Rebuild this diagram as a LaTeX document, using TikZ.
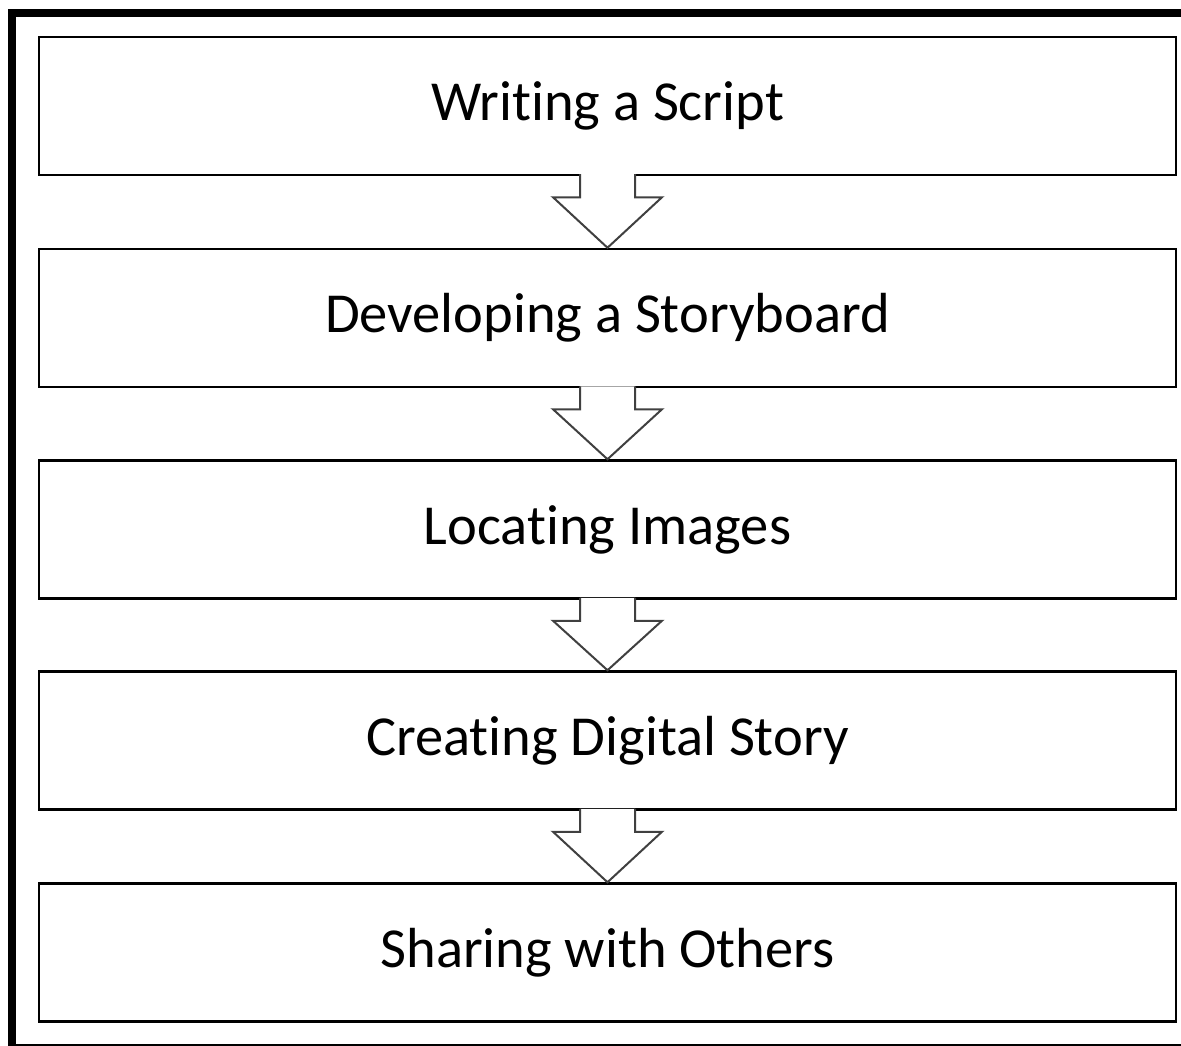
\documentclass[tikz,border=0pt]{standalone}
\usepackage{fontspec}
\setmainfont[Ligatures=NoCommon]{Carlito}
\usetikzlibrary{calc}
\tikzset{
  stepbox/.style={draw, line width=2.5pt, minimum width=1137pt, minimum height=138pt,
    inner sep=0pt, font=\fontsize{56.5}{66}\selectfont},
  flowarrow/.style={draw=black!75, fill=white, line width=2pt, line join=miter}
}
\begin{document}
\begin{tikzpicture}[x=1pt, y=-1pt]
\useasboundingbox (0,0) rectangle (1181,1046);
\clip (0,0) rectangle (1181,1046);
% outer frame
\draw[line width=8pt] (12,13) rectangle (1200,1048);
% steps
\node[stepbox] (script) at (607.5,106) {Writing a Script};
\node[stepbox] (storyboard) at (607.5,318) {Developing a Storyboard};
\node[stepbox] (images) at (607.5,529.5) {Locating Images};
\node[stepbox] (creating) at (607.5,740.5) {Creating Digital Story};
\node[stepbox] (sharing) at (607.5,952.5) {Sharing with Others};
% arrows between steps
\draw[flowarrow] ($(script.south)+(-27.5,-2)$) -- ++(0,23) -- ++(-27,0) -- (storyboard.north) -- ($(script.south)+(54.5,21)$) -- ++(-27,0) -- ++(0,-23);
\draw[flowarrow] ($(storyboard.south)+(-27.5,-2)$) -- ++(0,23) -- ++(-27,0) -- (images.north) -- ($(storyboard.south)+(54.5,21)$) -- ++(-27,0) -- ++(0,-23);
\draw[flowarrow] ($(images.south)+(-27.5,-2)$) -- ++(0,23) -- ++(-27,0) -- (creating.north) -- ($(images.south)+(54.5,21)$) -- ++(-27,0) -- ++(0,-23);
\draw[flowarrow] ($(creating.south)+(-27.5,-2)$) -- ++(0,23) -- ++(-27,0) -- (sharing.north) -- ($(creating.south)+(54.5,21)$) -- ++(-27,0) -- ++(0,-23);
\end{tikzpicture}
\end{document}
